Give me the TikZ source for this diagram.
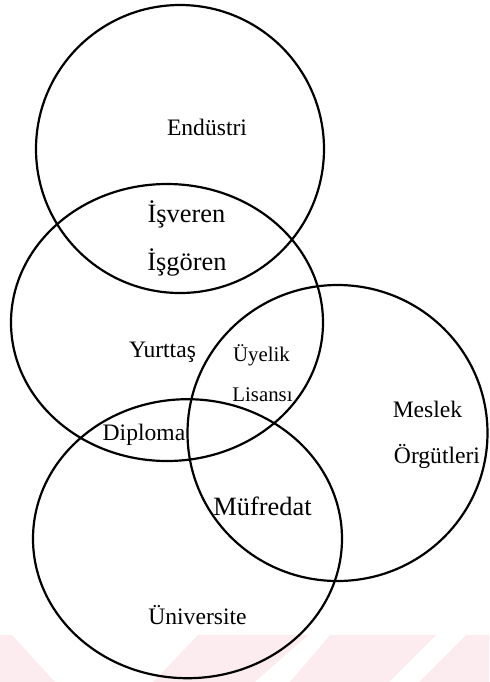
\documentclass[tikz,border=0pt]{standalone}
\usepackage{fontspec}
\setmainfont{Liberation Serif}
\definecolor{wmpink}{RGB}{253,236,239}
\begin{document}
\begin{tikzpicture}[x=0.5pt,y=-0.5pt,
  ring/.style={line width=1.1pt,draw=black},
  lbl/.style={anchor=base,inner sep=0pt,font=\fontsize{11.8}{14}\selectfont},
  lblbig/.style={anchor=base,inner sep=0pt,font=\fontsize{13.2}{16}\selectfont},
  lblsmall/.style={anchor=base,inner sep=0pt,font=\fontsize{10.4}{12}\selectfont}]
\useasboundingbox (0,0) rectangle (489,682);
% faint striped band along the foot of the page
\fill[wmpink] (0,635) -- (12,635) -- (55,682) -- (0,682) -- cycle;
\fill[wmpink] (198,635) -- (308,635) -- (255,682) -- (153,682) -- cycle;
\fill[wmpink] (330,635) -- (436,635) -- (389,682) -- (290,682) -- cycle;
\fill[wmpink] (466,635) -- (489,635) -- (489,682) -- (419,682) -- cycle;
% the four sets
\draw[ring] (180,149) ellipse [x radius=144, y radius=144];
\draw[ring] (167,322.5) ellipse [x radius=156, y radius=138.5];
\draw[ring] (337.5,433) ellipse [x radius=150, y radius=148];
\draw[ring] (187.5,538.7) ellipse [x radius=154.5, y radius=139.5];
% labels
\node[lbl] (endustri) at (207,135) {Endüstri};
\node[lblbig] (isveren) at (186.5,222) {İşveren};
\node[lblbig] (isgoren) at (187,270) {İşgören};
\node[lbl] (yurttas) at (162.5,357) {Yurttaş};
\node[lblsmall] (uyelik) at (261.5,361) {Üyelik};
\node[lblsmall] (lisansi) at (262.5,401.5) {Lisansı};
\node[lbl] (meslek) at (427.5,417) {Meslek};
\node[lbl] (orgutleri) at (437,463) {Örgütleri};
\node[lbl] (diploma) at (144,440.7) {Diploma};
\node[lblbig] (mufredat) at (262.5,515) {Müfredat};
\node[lbl] (universite) at (197.5,624.5) {Üniversite};
\end{tikzpicture}
\end{document}
